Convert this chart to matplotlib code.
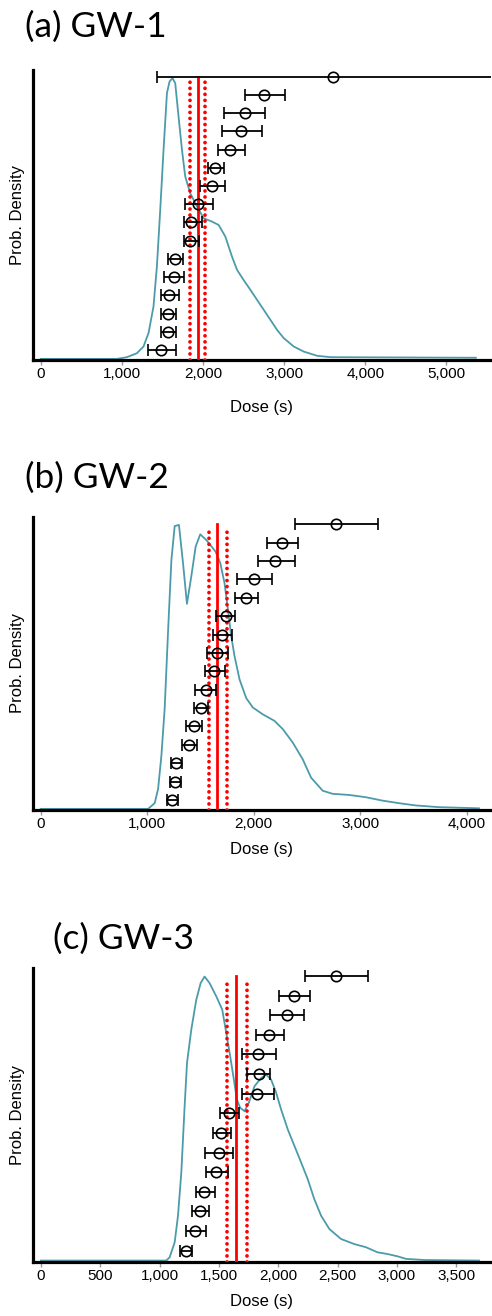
import matplotlib
matplotlib.use("Agg")
import matplotlib.pyplot as plt
from matplotlib.ticker import FuncFormatter
import numpy as np

plt.rcParams['font.family'] = ['Liberation Sans', 'DejaVu Sans']

# ---- GW-1 ----
a_curve_x = [0, 938, 1062, 1185, 1267, 1329, 1390, 1432, 1473, 1514, 1556, 1588, 1625,
             1658, 1699, 1741, 1781, 1843, 1926, 2008, 2111, 2193, 2275, 2358, 2420,
             2501, 2584, 2667, 2748, 2831, 2914, 2995, 3119, 3242, 3407, 3572, 5364]
a_curve_y = [0.0, 0.0, 0.006, 0.02, 0.044, 0.092, 0.186, 0.329, 0.53, 0.745, 0.947, 0.988, 1.0,
             0.982, 0.863, 0.745, 0.65, 0.59, 0.543, 0.501, 0.489, 0.477, 0.436, 0.364, 0.317,
             0.281, 0.246, 0.21, 0.175, 0.139, 0.103, 0.074, 0.044, 0.026, 0.011, 0.006, 0.004]
a_mean = [3605, 2757, 2514, 2469, 2337, 2152, 2111, 1938, 1852, 1843, 1658, 1637, 1576, 1568, 1568, 1485]
a_low = [1432, 2522, 2263, 2235, 2181, 2057, 1967, 1781, 1760, 1760, 1568, 1514, 1481, 1481, 1481, 1321]
a_high = [7000, 3007, 2770, 2728, 2522, 2254, 2275, 2119, 1988, 1954, 1753, 1769, 1707, 1667, 1667, 1670]
a_lines = [1835, 1938, 2028]

# ---- GW-2 ----
b_curve_x = [0, 1009, 1071, 1103, 1134, 1165, 1196, 1228, 1259, 1299, 1337, 1374, 1415, 1456,
             1499, 1556, 1643, 1687, 1727, 1759, 1790, 1821, 1868, 1931, 1993, 2086, 2196,
             2274, 2367, 2461, 2540, 2649, 2742, 2899, 3055, 3211, 3367, 3524, 3742, 4117]
b_curve_y = [0.0, 0.0, 0.02, 0.07, 0.187, 0.355, 0.62, 0.877, 0.996, 1.0, 0.866, 0.722, 0.819, 0.924,
             0.967, 0.947, 0.906, 0.866, 0.795, 0.702, 0.608, 0.538, 0.456, 0.39, 0.357, 0.333, 0.31,
             0.281, 0.234, 0.175, 0.11, 0.064, 0.053, 0.049, 0.041, 0.029, 0.02, 0.012, 0.006, 0.002]
b_mean = [2774, 2268, 2205, 2002, 1931, 1737, 1706, 1655, 1627, 1556, 1502, 1440, 1390, 1275, 1265, 1234]
b_low = [2390, 2127, 2039, 1846, 1830, 1649, 1618, 1565, 1546, 1453, 1440, 1368, 1327, 1228, 1212, 1187]
b_high = [3171, 2421, 2390, 2174, 2046, 1827, 1796, 1758, 1727, 1649, 1571, 1515, 1471, 1331, 1321, 1290]
b_lines = [1577, 1659, 1749]

# ---- GW-3 ----
c_curve_x = [0, 1057, 1085, 1127, 1155, 1183, 1211, 1231, 1267, 1309, 1346, 1379, 1421, 1478,
             1528, 1562, 1595, 1626, 1651, 1679, 1716, 1752, 1800, 1856, 1898, 1940, 1982,
             2024, 2080, 2136, 2193, 2248, 2304, 2361, 2431, 2529, 2641, 2739, 2837, 2921,
             3005, 3076, 3230, 3692]
c_curve_y = [0.0, 0.0, 0.012, 0.064, 0.158, 0.31, 0.544, 0.696, 0.813, 0.918, 0.977, 1.0, 0.977, 0.93,
             0.883, 0.801, 0.719, 0.637, 0.567, 0.538, 0.526, 0.556, 0.614, 0.643, 0.655, 0.637, 0.591,
             0.532, 0.462, 0.404, 0.345, 0.287, 0.216, 0.158, 0.111, 0.076, 0.058, 0.047, 0.029, 0.023,
             0.015, 0.006, 0.002, 0.0]
c_mean = [2487, 2131, 2072, 1926, 1833, 1836, 1822, 1584, 1520, 1497, 1478, 1374, 1337, 1301, 1220]
c_low = [2229, 2004, 1932, 1814, 1696, 1735, 1696, 1511, 1449, 1379, 1394, 1304, 1276, 1220, 1169]
c_high = [2753, 2271, 2214, 2052, 1982, 1932, 1960, 1668, 1604, 1617, 1575, 1463, 1413, 1388, 1276]
c_lines = [1567, 1646, 1735]

titles = ['(a) GW-1', '(b) GW-2', '(c) GW-3']

TEAL = '#4b9bab'


def draw_panel(fig, rect, cx, cy, mean, low, high, lines, xmax_tick, step, xlim, rank_lim,
               title, title_pos, xlabelpad):
    ax = fig.add_axes(rect)
    ax.plot(cx, cy, color=TEAL, lw=1.3, zorder=2)
    ax.set_xlim(*xlim)
    ax.set_ylim(-0.004, 1.029)
    ax.set_yticks([])
    ax.set_xticks(np.arange(0, xmax_tick + 1, step))
    ax.xaxis.set_major_formatter(FuncFormatter(lambda v, p: f'{int(v):,}'))
    ax.tick_params(axis='x', direction='out', length=3.5, width=1, color='#9a9a9a',
                   labelsize=11, pad=1.5)
    for s in ['top', 'right']:
        ax.spines[s].set_visible(False)
    for s in ['left', 'bottom']:
        ax.spines[s].set_linewidth(2.3)
        ax.spines[s].set_color('black')
    ax.set_xlabel('Dose (s)', fontsize=12, labelpad=xlabelpad)
    ax.set_ylabel('Prob. Density', fontsize=12, labelpad=6)

    # red estimate lines
    ax.axvline(lines[1], ymin=0.0, ymax=0.975, color='red', lw=2.0, zorder=3)
    for v in (lines[0], lines[2]):
        ax.axvline(v, ymin=0.0, ymax=0.96, color='red', lw=2.7,
                   linestyle=(0, (0.01, 1.6)), dash_capstyle='round', zorder=3)

    # per-sample estimates with error bars
    ax2 = ax.twinx()
    n = len(mean)
    rank = np.arange(n, 0, -1)
    m = np.array(mean)
    xerr = [m - np.array(low), np.array(high) - m]
    ax2.errorbar(m, rank, xerr=xerr, fmt='o', mfc='none', mec='black', ms=7.5, mew=1.2,
                 ecolor='black', elinewidth=1.3, capsize=4.2, capthick=1.3, zorder=4)
    ax2.set_ylim(*rank_lim)
    ax2.set_xlim(*xlim)
    ax2.set_yticks([])
    for s in ['top', 'right', 'left', 'bottom']:
        ax2.spines[s].set_visible(False)

    fig.text(title_pos[0], title_pos[1], title, fontsize=25.5, family=['Lato', 'DejaVu Sans'],
             ha='left', va='baseline')
    return ax


W, H = 492, 1316
fig = plt.figure(figsize=(W / 100, H / 100), dpi=100)


def rect(left, right, top, bottom):
    return [left / W, 1 - bottom / H, (right - left) / W, (bottom - top) / H]


draw_panel(fig, rect(33, 491, 70, 360), a_curve_x, a_curve_y, a_mean, a_low, a_high, a_lines,
           5000, 1000, (-95, 5550), (0.451, 16.37), titles[0], (25 / W, 1 - 37 / H), 14)
draw_panel(fig, rect(33, 491, 516.7, 810), b_curve_x, b_curve_y, b_mean, b_low, b_high, b_lines,
           4000, 1000, (-72, 4230), (0.456, 16.41), titles[1], (25 / W, 1 - 488 / H), 8)
draw_panel(fig, rect(33, 491, 968.3, 1261.7), c_curve_x, c_curve_y, c_mean, c_low, c_high, c_lines,
           3500, 500, (-67, 3793), (0.439, 15.39), titles[2], (53 / W, 1 - 949 / H), 8)

fig.savefig('out.png', dpi=100)
